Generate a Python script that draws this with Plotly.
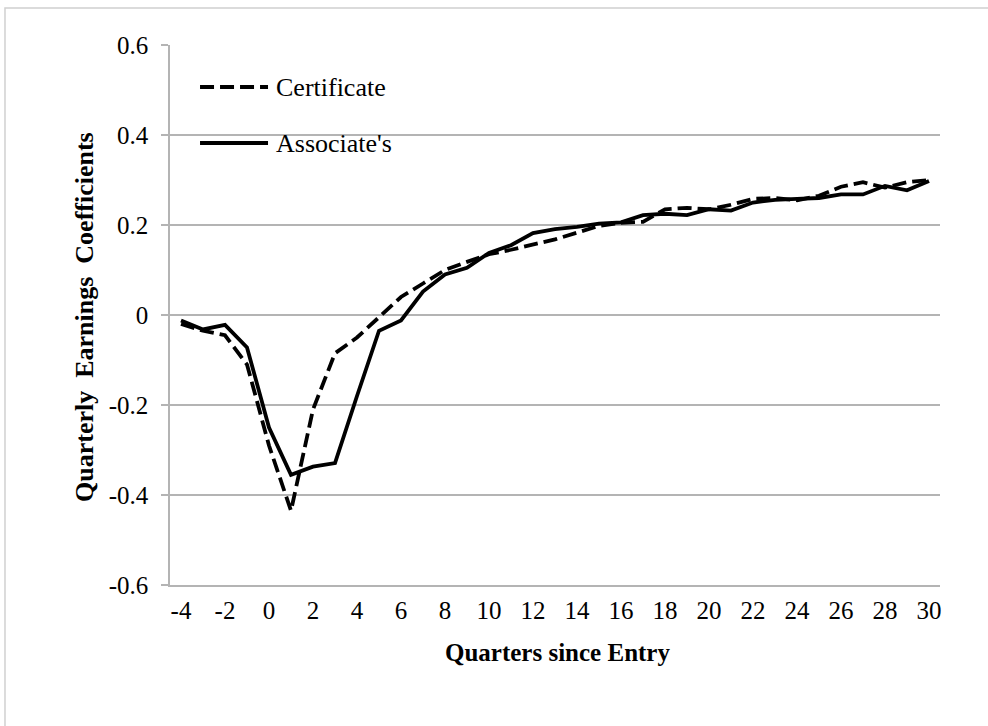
import plotly.graph_objs as go

# Quarters since entry (category axis, -4 ... 30)
quarters = list(range(-4, 31))

# Quarterly earnings coefficients
certificate = [-0.02, -0.035, -0.045, -0.11, -0.29, -0.435, -0.21, -0.085, -0.05, -0.005,
               0.04, 0.07, 0.1, 0.118, 0.135, 0.145, 0.157, 0.168, 0.183, 0.198,
               0.205, 0.207, 0.235, 0.238, 0.235, 0.245, 0.258, 0.26, 0.255, 0.265,
               0.285, 0.295, 0.283, 0.295, 0.3]
associates = [-0.012, -0.032, -0.022, -0.072, -0.25, -0.355, -0.337, -0.329, -0.18, -0.035,
              -0.012, 0.052, 0.09, 0.105, 0.138, 0.155, 0.182, 0.191, 0.196, 0.203,
              0.206, 0.222, 0.225, 0.222, 0.235, 0.232, 0.25, 0.256, 0.258, 0.26,
              0.268, 0.268, 0.287, 0.277, 0.298]

x_ticks = list(range(-4, 31, 2))
x_labels = [str(q) for q in x_ticks]  # plain hyphen, not unicode minus
y_ticks = [-0.6, -0.4, -0.2, 0, 0.2, 0.4, 0.6]
y_labels = ['-0.6', '-0.4', '-0.2', '0', '0.2', '0.4', '0.6']

serif = 'Liberation Serif, Times New Roman, serif'
grid = '#b4b4b4'
dash = '14px,6px'
lw = 3.8

data = [
    go.Scatter(x=quarters, y=certificate, mode='lines', name='Certificate',
               line=dict(color='black', width=lw, dash=dash)),
    go.Scatter(x=quarters, y=associates, mode='lines', name="Associate's",
               line=dict(color='black', width=lw)),
]

layout = go.Layout(
    width=988, height=726,
    margin=dict(l=170, r=48, t=45, b=141),
    paper_bgcolor='white', plot_bgcolor='white',
    font=dict(family=serif, size=25, color='black'),
    showlegend=False,
    xaxis=dict(range=[-4.5, 30.5], tickvals=x_ticks, ticktext=x_labels, ticks='',
               showgrid=False, zeroline=False, showline=True, linecolor=grid, linewidth=1.5,
               ticklabelstandoff=2, tickfont=dict(size=25)),
    yaxis=dict(range=[-0.6, 0.6], tickvals=y_ticks, ticktext=y_labels,
               showgrid=True, gridcolor=grid, gridwidth=1.5, zeroline=False,
               showline=True, linecolor=grid, linewidth=1.5,
               ticks='outside', ticklen=7, tickcolor=grid, tickwidth=1.5,
               ticklabelstandoff=8, tickfont=dict(size=25)),
)

fig = go.Figure(data=data, layout=layout)

# Outer chart border (light grey frame, right/bottom edges fall off the picture)
fig.add_shape(type='rect', xref='paper', yref='paper', x0=-0.2143, x1=1.07, y0=-0.28, y1=1.0685,
              line=dict(color='#d0d0d0', width=1.5), fillcolor='rgba(0,0,0,0)', layer='below')

# Legend box drawn by hand so the line samples are as long as in the original
fig.add_shape(type='rect', xref='paper', yref='paper', x0=0.02, x1=0.3, y0=0.78, y1=0.97,
              line=dict(width=0), fillcolor='white', layer='between')
fig.add_shape(type='line', xref='paper', yref='paper', x0=0.0390, x1=0.1273, y0=0.9222, y1=0.9222,
              line=dict(color='black', width=lw, dash=dash))
fig.add_shape(type='line', xref='paper', yref='paper', x0=0.0390, x1=0.1273, y0=0.8185, y1=0.8185,
              line=dict(color='black', width=lw))
fig.add_annotation(text='Certificate', xref='paper', yref='paper', x=0.135, y=0.9222,
                   xanchor='left', yanchor='middle', showarrow=False, font=dict(size=26))
fig.add_annotation(text="Associate's", xref='paper', yref='paper', x=0.135, y=0.8185,
                   xanchor='left', yanchor='middle', showarrow=False, font=dict(size=26))

# Axis titles
fig.add_annotation(text='<b>Quarters since Entry</b>', xref='paper', yref='paper', x=0.5026, y=-0.1241,
                   xanchor='center', yanchor='middle', showarrow=False, font=dict(size=25))
fig.add_annotation(text='<b>Quarterly\u00a0\u00a0Earnings\u00a0\u00a0Coefficients</b>',
                   xref='paper', yref='paper', x=-0.1104, y=0.4963, xanchor='center',
                   yanchor='middle', textangle=-90, showarrow=False, font=dict(size=26))

# remove the default 8px page margin so the chart sits at the window's corner
fig.write_html('out.html', config={'displayModeBar': False},
               post_script="document.body.style.margin='0';")
